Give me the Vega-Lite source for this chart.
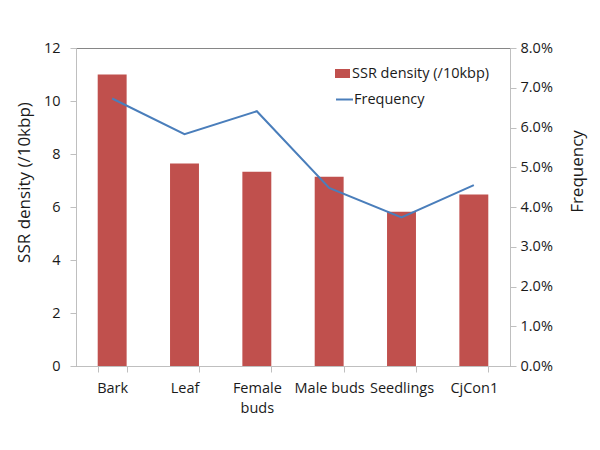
{
  "$schema": "https://vega.github.io/schema/vega-lite/v6.json",
  "width": 434,
  "height": 318,
  "autosize": {"type": "none"},
  "padding": {"left": 76, "top": 48, "right": 90, "bottom": 84},
  "background": "white",
  "config": {
    "font": "Open Sans",
    "view": {"stroke": "#868686", "strokeWidth": 1},
    "axis": {
      "labelFont": "Open Sans",
      "labelFontSize": 14.5,
      "labelColor": "#1a1a1a",
      "titleFont": "Open Sans",
      "titleFontSize": 17,
      "titleFontWeight": "normal",
      "titleColor": "#1a1a1a",
      "domainColor": "#bfbfbf",
      "tickColor": "#bfbfbf",
      "tickSize": 6,
      "grid": false
    },
    "legend": {
      "labelFont": "Open Sans",
      "labelFontSize": 14.5,
      "labelColor": "#1a1a1a",
      "padding": 0
    }
  },
  "data": {
    "values": [
      {"category": "Bark", "density": 11.0, "freq": 0.0673},
      {"category": "Leaf", "density": 7.64, "freq": 0.0583},
      {"category": "Female buds", "density": 7.33, "freq": 0.0641},
      {"category": "Male buds", "density": 7.14, "freq": 0.0448},
      {"category": "Seedlings", "density": 5.82, "freq": 0.0374},
      {"category": "CjCon1", "density": 6.47, "freq": 0.0455}
    ]
  },
  "encoding": {
    "x": {
      "field": "category",
      "type": "nominal",
      "sort": null,
      "scale": {"paddingInner": 0.6, "paddingOuter": 0.3},
      "axis": {
        "title": null,
        "labelAngle": 0,
        "tickBand": "extent",
        "labelPadding": 9,
        "labelLineHeight": 20,
        "labelOverlap": false,
        "labelBound": false,
        "labelExpr": "datum.label == 'Female buds' ? ['Female', 'buds'] : datum.label"
      }
    }
  },
  "layer": [
    {
      "mark": {"type": "bar", "color": "#c0504d"},
      "encoding": {
        "y": {
          "field": "density",
          "type": "quantitative",
          "scale": {"domain": [0, 12]},
          "axis": {
            "title": "SSR density (/10kbp)",
            "values": [0, 2, 4, 6, 8, 10, 12],
            "labelPadding": 10,
            "titleAngle": 270,
            "titleX": -52,
            "titleY": 134,
            "titleBaseline": "middle",
            "titleAlign": "center"
          }
        },
        "color": {
          "datum": "SSR density (/10kbp)",
          "scale": {"range": ["#c0504d"]},
          "legend": {
            "title": null,
            "orient": "none",
            "legendX": 259,
            "legendY": 18,
            "symbolType": "M-1,-0.6H1V0.6H-1Z",
            "symbolSize": 225,
            "symbolStrokeWidth": 0,
            "labelOffset": 2
          }
        }
      }
    },
    {
      "mark": {"type": "line", "color": "#4a7ebb", "strokeWidth": 2},
      "encoding": {
        "y": {
          "field": "freq",
          "type": "quantitative",
          "scale": {"domain": [0, 0.08]},
          "axis": {
            "orient": "right",
            "title": "Frequency",
            "format": ".1%",
            "values": [0, 0.01, 0.02, 0.03, 0.04, 0.05, 0.06, 0.07, 0.08],
            "labelPadding": 4,
            "titleAngle": 270,
            "titleX": 67,
            "titleY": 123,
            "titleBaseline": "middle",
            "titleAlign": "center"
          }
        },
        "stroke": {
          "datum": "Frequency",
          "scale": {"range": ["#4a7ebb"]},
          "legend": {
            "title": null,
            "orient": "none",
            "legendX": 259,
            "legendY": 42,
            "symbolType": "stroke",
            "symbolSize": 289,
            "symbolStrokeWidth": 2,
            "labelOffset": 0
          }
        }
      }
    }
  ],
  "resolve": {"scale": {"y": "independent"}}
}
